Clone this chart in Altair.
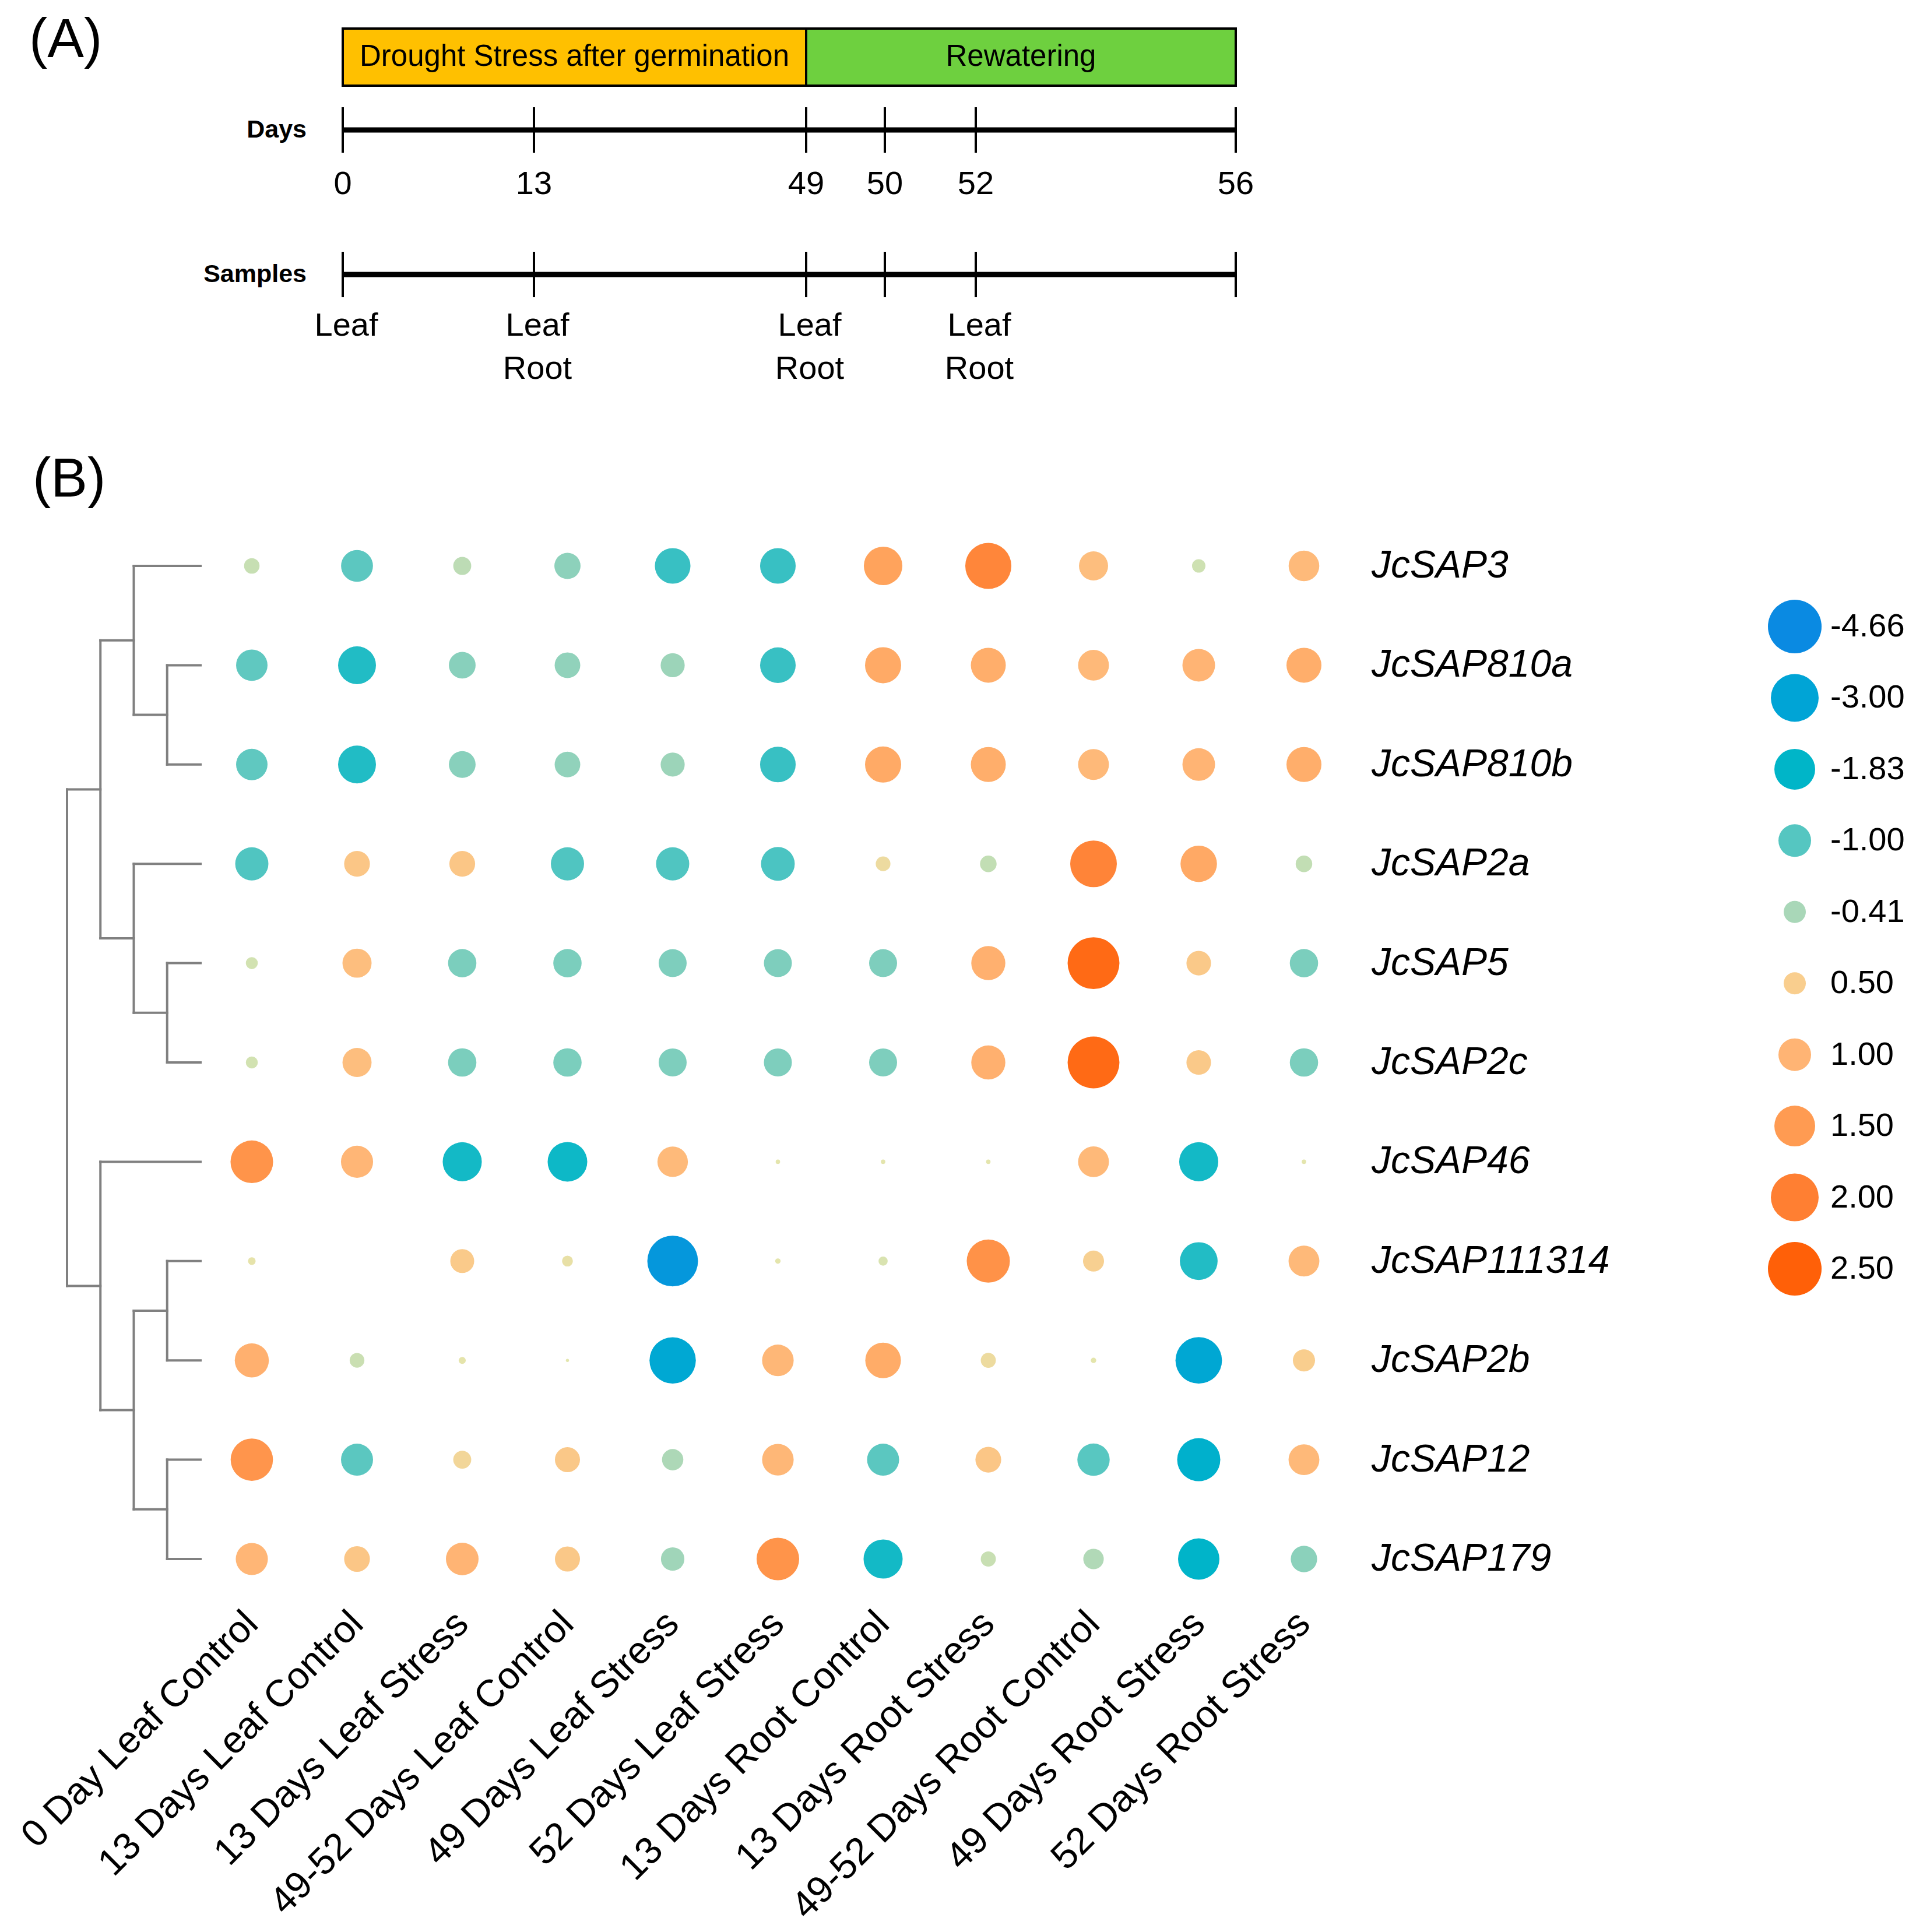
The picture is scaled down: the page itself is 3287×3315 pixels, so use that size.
import altair as alt
import pandas as pd
import numpy as np

FONT = "Liberation Sans"
M = 8  # page margin

# ---------------- Panel A data ----------------
stage_names = ["Drought Stress after germination", "Rewatering"]
stage_start = [0, 49]
stage_end = [49, 56]
stage_colors = ["#FFC000", "#6ED03F"]
day_ticks = [0, 13, 49, 50, 52, 56]
sample_days = [0, 13, 13, 49, 49, 52, 52]
sample_tissue = ["Leaf", "Leaf", "Root", "Leaf", "Root", "Leaf", "Root"]

# ---------------- Panel B data ----------------
genes = ["JcSAP3", "JcSAP810a", "JcSAP810b", "JcSAP2a", "JcSAP5", "JcSAP2c",
         "JcSAP46", "JcSAP111314", "JcSAP2b", "JcSAP12", "JcSAP179"]
samples = ["0 Day Leaf Control", "13 Days Leaf Control", "13 Days Leaf Stress",
           "49-52 Days Leaf Control", "49 Days Leaf Stress", "52 Days Leaf Stress",
           "13 Days Root Control", "13 Days Root Stress", "49-52 Days Root Control",
           "49 Days Root Stress", "52 Days Root Stress"]
v_JcSAP3 = [-0.20, -0.95, -0.27, -0.61, -1.28, -1.28, 1.35, 1.87, 0.81, -0.15, 0.89]
v_JcSAP810a = [-0.92, -1.51, -0.64, -0.58, -0.50, -1.28, 1.20, 1.13, 0.90, 1.00, 1.13]
v_JcSAP810b = [-0.92, -1.51, -0.64, -0.58, -0.50, -1.28, 1.20, 1.13, 0.90, 1.00, 1.13]
v_JcSAP2a = [-1.05, 0.65, 0.65, -1.05, -1.05, -1.10, 0.22, -0.23, 1.91, 1.22, -0.23]
v_JcSAP5 = [-0.12, 0.81, -0.73, -0.73, -0.71, -0.71, -0.71, 1.08, 2.34, 0.60, -0.73]
v_JcSAP2c = [-0.12, 0.81, -0.73, -0.73, -0.71, -0.71, -0.71, 1.08, 2.34, 0.60, -0.73]
v_JcSAP46 = [1.62, 0.97, -1.64, -1.70, 0.88, 0.02, 0.02, 0.02, 0.90, -1.64, 0.02]
v_JcSAP111314 = [0.06, 0.00, 0.57, 0.12, -3.80, 0.03, -0.07, 1.66, 0.45, -1.50, 0.90]
v_JcSAP2b = [1.08, -0.18, 0.05, 0.01, -2.74, 0.94, 1.17, 0.23, 0.03, -2.77, 0.50]
v_JcSAP12 = [1.60, -0.96, 0.33, 0.62, -0.38, 0.94, -0.96, 0.65, -0.98, -2.20, 0.90]
v_JcSAP179 = [0.97, 0.65, 1.00, 0.62, -0.47, 1.62, -1.64, -0.19, -0.35, -1.92, -0.62]
value_rows = [v_JcSAP3, v_JcSAP810a, v_JcSAP810b, v_JcSAP2a, v_JcSAP5, v_JcSAP2c,
              v_JcSAP46, v_JcSAP111314, v_JcSAP2b, v_JcSAP12, v_JcSAP179]
legend_values = [-4.66, -3.00, -1.83, -1.00, -0.41, 0.50, 1.00, 1.50, 2.00, 2.50]
# dendrogram topology (leaf = row index in genes)
tree = (((0, (1, 2)), (3, (4, 5))), (6, ((7, 8), (9, 10))))

# ---------------- scales (styling) ----------------
day_range = [588 - M, 916 - M, 1383 - M, 1518 - M, 1674 - M, 2120 - M]
day_scale = alt.Scale(domain=day_ticks, range=day_range, zero=False, nice=False)

stops = [-4.66, -3.00, -1.83, -1.00, -0.41, 0.0, 0.50, 1.00, 1.50, 2.00, 2.50]
stop_colors = ["#0A8AE2", "#00A4D6", "#00B5C8", "#55C6C1", "#A9D7B8", "#E3E6AE",
               "#F9CE8E", "#FFB474", "#FF9B52", "#FF7F32", "#FF6008"]
stop_diam = [92, 82, 70, 56, 38, 0, 38, 56, 70, 82, 92]
color_scale = alt.Scale(domain=stops, range=stop_colors, interpolate="rgb")
size_scale = alt.Scale(domain=stops, range=[d * d for d in stop_diam], zero=False, nice=False)

col_range = [432 - M, 2237 - M]
row_range = [971 - M, 2675 - M]

# ---------------- Panel A layers ----------------
stage_df = pd.DataFrame({"name": stage_names, "start": stage_start, "end": stage_end,
                         "color": stage_colors})
days_df = pd.DataFrame({"day": day_ticks})
samp_df = pd.DataFrame({"day": sample_days, "tissue": sample_tissue})

bars = alt.Chart(stage_df).mark_rect(stroke="black", strokeWidth=4).encode(
    x=alt.X("start:Q", scale=day_scale, axis=None),
    x2="end:Q",
    y=alt.value(49 - M), y2=alt.value(147 - M),
    fill=alt.Color("color:N", scale=None, legend=None),
)

bar_texts = []
for n, s, e in zip(stage_names, stage_start, stage_end):
    cx = (np.interp(s, day_ticks, day_range) + np.interp(e, day_ticks, day_range)) / 2
    bar_texts.append(
        alt.Chart(pd.DataFrame({"name": [n]})).mark_text(
            font=FONT, fontSize=51, align="center", baseline="middle", color="black"
        ).encode(x=alt.value(float(cx)), y=alt.value(98 - M), text="name:N")
    )

def timeline(yc):
    line = alt.Chart(days_df).mark_rule(strokeWidth=9, color="black").encode(
        x=alt.X("min(day):Q", scale=day_scale, axis=None),
        x2="max(day):Q",
        y=alt.value(yc - M),
    )
    ticks = alt.Chart(days_df).mark_rule(strokeWidth=4, color="black").encode(
        x=alt.X("day:Q", scale=day_scale, axis=None),
        y=alt.value(yc - 39 - M), y2=alt.value(yc + 39 - M),
    )
    return [line, ticks]

day_labels = alt.Chart(days_df).mark_text(
    font=FONT, fontSize=56, align="center", baseline="alphabetic", color="black"
).encode(x=alt.X("day:Q", scale=day_scale, axis=None), y=alt.value(333 - M),
         text="day:Q")

samp_layers = []
for tissue, yb in [("Leaf", 576), ("Root", 650)]:
    samp_layers.append(
        alt.Chart(samp_df).transform_filter(alt.datum.tissue == tissue).mark_text(
            font=FONT, fontSize=56, align="center", baseline="alphabetic", color="black",
            dx=6
        ).encode(x=alt.X("day:Q", scale=day_scale, axis=None), y=alt.value(yb - M),
                 text="tissue:N")
    )

axis_titles = []
for t, yc in [("Days", 223), ("Samples", 471)]:
    axis_titles.append(
        alt.Chart(pd.DataFrame({"t": [t]})).mark_text(
            font=FONT, fontSize=43, fontWeight="bold", align="right", baseline="middle",
            color="black"
        ).encode(x=alt.value(526 - M), y=alt.value(yc - M), text="t:N")
    )

panel_tags = []
for t, xl, yb in [("(A)", 50, 98), ("(B)", 56, 852)]:
    panel_tags.append(
        alt.Chart(pd.DataFrame({"t": [t]})).mark_text(
            font=FONT, fontSize=94, align="left", baseline="alphabetic", color="black"
        ).encode(x=alt.value(xl - M), y=alt.value(yb - M), text="t:N")
    )

# ---------------- Panel B layers ----------------
rows = []
for g, vals in zip(genes, value_rows):
    for s, v in zip(samples, vals):
        rows.append({"gene": g, "sample": s, "value": v})
bub_df = pd.DataFrame(rows)

bubbles = alt.Chart(bub_df).mark_circle(opacity=1).encode(
    x=alt.X("sample:N", scale=alt.Scale(domain=samples, range=col_range, padding=0), axis=None),
    y=alt.Y("gene:N", scale=alt.Scale(domain=genes, range=row_range, padding=0), axis=None),
    size=alt.Size("value:Q", scale=size_scale, legend=None),
    color=alt.Color("value:Q", scale=color_scale, legend=None),
)

gene_labels = alt.Chart(pd.DataFrame({"gene": genes})).mark_text(
    font=FONT, fontSize=66, fontStyle="italic", align="left", baseline="middle",
    color="black"
).encode(
    x=alt.value(2353 - M),
    y=alt.Y("gene:N", scale=alt.Scale(domain=genes, range=row_range, padding=0), axis=None),
    text="gene:N",
)

sample_labels = alt.Chart(pd.DataFrame({"sample": samples})).mark_text(
    font=FONT, fontSize=65, align="right", baseline="alphabetic", angle=315,
    color="black"
).encode(
    x=alt.X("sample:N", scale=alt.Scale(domain=samples,
                                         range=[col_range[0] + 14, col_range[1] + 14],
                                         padding=0), axis=None),
    y=alt.value(2790 - M),
    text="sample:N",
)

# dendrogram segments derived from the tree topology
segs = []

def walk(node):
    if isinstance(node, int):
        return 0, float(node)
    h1, y1 = walk(node[0])
    h2, y2 = walk(node[1])
    h = max(h1, h2) + 1
    segs.append({"x": h1, "x2": h, "y": y1, "y2": y1})
    segs.append({"x": h2, "x2": h, "y": y2, "y2": y2})
    segs.append({"x": h, "x2": h, "y": y1, "y2": y2})
    return h, (y1 + y2) / 2

walk(tree)
seg_df = pd.DataFrame(segs)
dendro = alt.Chart(seg_df).mark_rule(color="#808080", strokeWidth=4, strokeCap="square").encode(
    x=alt.X("x:Q", scale=alt.Scale(domain=[0, 4], range=[344 - M, 115 - M], zero=False, nice=False), axis=None),
    x2="x2:Q",
    y=alt.Y("y:Q", scale=alt.Scale(domain=[0, len(genes) - 1], range=row_range, zero=False, nice=False), axis=None),
    y2="y2:Q",
)

# legend
leg_df = pd.DataFrame({"lv": legend_values, "lab": [f"{v:.2f}" for v in legend_values]})
leg_labels = [f"{v:.2f}" for v in legend_values]
leg_y = alt.Scale(domain=leg_labels, range=[1075 - M, 2177 - M], padding=0)
leg_circles = alt.Chart(leg_df).mark_circle(opacity=1).encode(
    x=alt.value(3079 - M),
    y=alt.Y("lab:N", scale=leg_y, axis=None),
    size=alt.Size("lv:Q", scale=size_scale, legend=None),
    color=alt.Color("lv:Q", scale=color_scale, legend=None),
)
leg_text = alt.Chart(leg_df).mark_text(
    font=FONT, fontSize=56, align="left", baseline="middle", color="black"
).encode(
    x=alt.value(3140 - M),
    y=alt.Y("lab:N", scale=leg_y, axis=None),
    text="lab:N",
)

layers = [bars] + bar_texts + timeline(223) + [day_labels] + timeline(471) + samp_layers \
    + axis_titles + panel_tags + [dendro, bubbles, gene_labels, sample_labels,
                                  leg_circles, leg_text]

chart = alt.layer(*layers).resolve_scale(
    x="independent", y="independent", size="independent", color="independent", fill="independent"
).properties(
    width=3287 - 2 * M, height=3315 - 2 * M, padding=0, autosize="none",
    background="white"
).configure_view(stroke=None)

chart.save("out.html", embed_options={"renderer": "svg", "actions": False})
